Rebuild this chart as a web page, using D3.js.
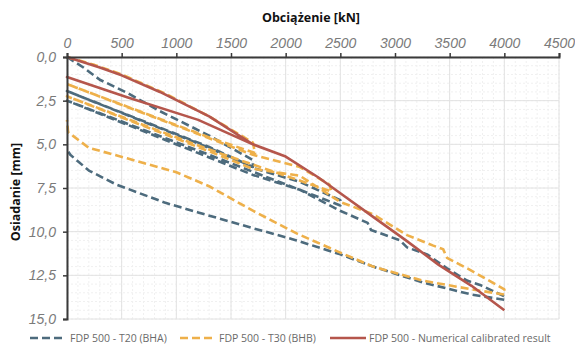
<!DOCTYPE html>
<html><head><meta charset="utf-8">
<script src="https://cdn.jsdelivr.net/npm/d3@7"></script>
<style>
html,body{margin:0;padding:0;background:#fff;}
svg{display:block;}
</style></head>
<body>
<svg id="chart" width="575" height="353"></svg>
<script>
// ---- data ----
const xTicks = [0,500,1000,1500,2000,2500,3000,3500,4000,4500];
const yTicks = [0,2.5,5,7.5,10,12.5,15];
const seriesNames = ["FDP 500 - T20 (BHA)","FDP 500 - T30 (BHB)","FDP 500 - Numerical calibrated result"];

const t20Load   = [0,150,300,550,850,1300,1700,1700,1300,0,1300,1700,2130,2500,2500,1300,0,1300,1700,2130,2497,2750,2780,3046,3110,3293,3476,3659,3778,4000,4000,3700,3250,2800,2500,2100,1700,1200,900,450,200,30,0];
const t20Settle = [0,0.6,1.3,2.05,3.1,4.5,5.9,6.3,5.15,1.95,5.2,6.35,7.15,8.2,8.5,5.6,2.5,5.75,6.75,7.6,8.8,9.5,9.9,10.5,10.9,11.3,12.1,12.8,13.05,13.7,13.9,13.6,12.9,12.0,11.3,10.5,9.8,8.9,8.35,7.3,6.5,5.6,5.3];

const t30Load   = [0,250,500,900,1300,1700,1720,1300,0,1300,1700,2130,2400,2420,1300,0,1300,1700,2130,2500,2800,3110,3350,3440,3476,3690,4000,4000,3700,3250,2800,2500,2100,1700,1300,1000,550,200,10,0];
const t30Settle = [0,0.45,1.0,2.1,3.4,4.9,5.5,4.6,1.55,4.65,5.6,6.3,7.3,7.7,5.3,2.25,5.4,6.4,6.8,8.3,9.0,10.2,10.8,11.0,11.5,12.2,13.3,13.6,13.3,12.8,12.0,11.2,10.1,8.8,7.4,6.6,5.8,5.2,4.3,3.6];

const numLoad   = [0,300,500,850,1300,1700,1200,550,0,550,1200,1700,2000,2300,2500,2800,3100,3400,3700,4000];
const numSettle = [0,0.6,1.05,2.0,3.4,5.0,3.6,2.3,1.15,2.3,3.6,5.0,5.7,6.9,7.8,9.15,10.5,11.9,13.1,14.5];

// ---- chart ----
const svg = d3.select("#chart");
const x = d3.scaleLinear().domain([0,4500]).range([67,559]);
const y = d3.scaleLinear().domain([0,15]).range([57,319]);

const colors = ["#4d6b7d","#eeb04a","#b5564c"];

// minor grid
const minorX = d3.range(0,4501,100), minorY = d3.range(0,15.01,0.5);
svg.append("g").selectAll("line").data(minorX).join("line")
  .attr("x1",d=>x(d)).attr("x2",d=>x(d)).attr("y1",y(0)).attr("y2",y(15))
  .attr("stroke","#f0f0f0").attr("stroke-width",1).attr("stroke-dasharray","2,2");
svg.append("g").selectAll("line").data(minorY).join("line")
  .attr("y1",d=>y(d)).attr("y2",d=>y(d)).attr("x1",x(0)).attr("x2",x(4500))
  .attr("stroke","#f0f0f0").attr("stroke-width",1).attr("stroke-dasharray","2,2");
// major grid
svg.append("g").selectAll("line").data(xTicks).join("line")
  .attr("x1",d=>x(d)).attr("x2",d=>x(d)).attr("y1",y(0)).attr("y2",y(15))
  .attr("stroke","#e2e2e2").attr("stroke-width",1);
svg.append("g").selectAll("line").data(yTicks).join("line")
  .attr("y1",d=>y(d)).attr("y2",d=>y(d)).attr("x1",x(0)).attr("x2",x(4500))
  .attr("stroke","#e2e2e2").attr("stroke-width",1);

// series
const line = d3.line().x(d=>x(d[0])).y(d=>y(d[1]));
const series = [
  {l:t20Load, s:t20Settle, c:colors[0], dash:"8,4"},
  {l:t30Load, s:t30Settle, c:colors[1], dash:"8,4"},
  {l:numLoad, s:numSettle, c:colors[2], dash:null}
];
series.forEach(se=>{
  const pts = se.l.map((v,i)=>[v,se.s[i]]);
  svg.append("path").attr("d",line(pts)).attr("fill","none")
    .attr("stroke",se.c).attr("stroke-width",2.6)
    .attr("stroke-linejoin","round")
    .attr("stroke-dasharray",se.dash);
});

// axes
const xAxis = d3.axisTop(x).tickValues(xTicks).tickSize(4).tickFormat(d3.format("d"));
const gx = svg.append("g").attr("transform",`translate(0,${y(0)})`).call(xAxis);
gx.select(".domain").attr("stroke","#3a3a3a").attr("stroke-width",2);
gx.selectAll(".tick line").attr("stroke","#3a3a3a").attr("stroke-width",1.5);
gx.selectAll(".tick text").attr("font-family","'Liberation Sans', Arial, sans-serif")
  .attr("font-style","italic").attr("font-size",14).attr("fill","#7a7a7a").attr("dy","-2");

const fmtY = d=>d3.format(".1f")(d).replace(".",",");
const yAxis = d3.axisLeft(y).tickValues(yTicks).tickSize(4).tickFormat(fmtY);
const gy = svg.append("g").attr("transform",`translate(${x(0)},0)`).call(yAxis);
gy.select(".domain").attr("stroke","#3a3a3a").attr("stroke-width",2);
gy.selectAll(".tick line").attr("stroke","#3a3a3a").attr("stroke-width",1.5);
gy.selectAll(".tick text").attr("font-family","'Liberation Sans', Arial, sans-serif")
  .attr("font-style","italic").attr("font-size",14).attr("fill","#7a7a7a").attr("dx","-4");

// titles
svg.append("text").attr("x",311).attr("y",22).attr("text-anchor","middle")
  .attr("font-family","'Open Sans', sans-serif").attr("font-weight","bold").attr("font-size",12.5)
  .attr("fill","#111").text("Obciążenie [kN]");
svg.append("text").attr("transform","translate(20,192) rotate(-90)").attr("text-anchor","middle")
  .attr("font-family","'Open Sans', sans-serif").attr("font-weight","bold").attr("font-size",12.5)
  .attr("fill","#111").text("Osiadanie [mm]");

// legend
const legendItems = [
  {x1:30, x2:63, tx:70},
  {x1:180, x2:212, tx:219},
  {x1:330, x2:366, tx:369}
];
legendItems.forEach((it,i)=>{
  svg.append("line").attr("x1",it.x1).attr("x2",it.x2).attr("y1",338).attr("y2",338)
    .attr("stroke",series[i].c).attr("stroke-width",2.6).attr("stroke-dasharray",series[i].dash);
  svg.append("text").attr("x",it.tx).attr("y",342)
    .attr("font-family","'Open Sans', sans-serif").attr("font-size",10.5).attr("fill","#6a6a6a")
    .text(seriesNames[i]);
});
</script>
</body></html>
